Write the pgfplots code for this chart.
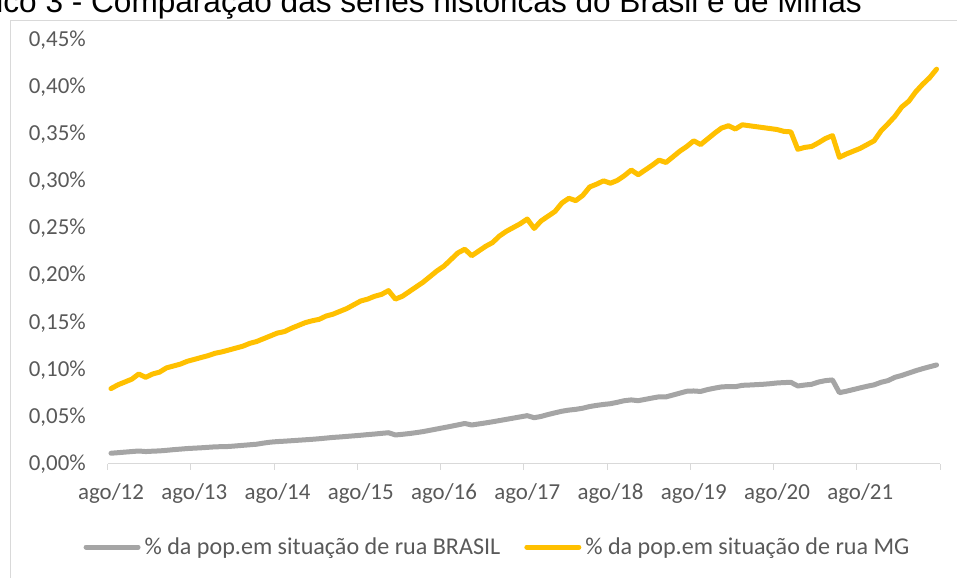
\documentclass[border=0pt]{standalone}
\usepackage{pgfplots}
\pgfplotsset{compat=1.18}
\usepackage{pgfplotstable}
\usepackage{fontspec}
\setmainfont{Carlito}
\newfontfamily\arialfont{Liberation Sans}
\definecolor{mgY}{HTML}{FFC000}
\definecolor{brG}{HTML}{A5A5A5}
\definecolor{txt}{HTML}{595959}
\definecolor{axl}{HTML}{D9D9D9}

\pgfplotstableread{
i v
0 0.0114
1 0.0120
2 0.0126
3 0.0132
4 0.0138
5 0.0132
6 0.0136
7 0.0139
8 0.0145
9 0.0152
10 0.0158
11 0.0164
12 0.0168
13 0.0172
14 0.0177
15 0.0182
16 0.0184
17 0.0186
18 0.0192
19 0.0198
20 0.0204
21 0.0210
22 0.0222
23 0.0232
24 0.0238
25 0.0242
26 0.0247
27 0.0252
28 0.0257
29 0.0262
30 0.0268
31 0.0275
32 0.0282
33 0.0287
34 0.0293
35 0.0299
36 0.0305
37 0.0312
38 0.0318
39 0.0325
40 0.0332
41 0.0308
42 0.0315
43 0.0323
44 0.0333
45 0.0344
46 0.0358
47 0.0372
48 0.0386
49 0.0400
50 0.0415
51 0.0430
52 0.0414
53 0.0425
54 0.0436
55 0.0448
56 0.0461
57 0.0474
58 0.0487
59 0.0500
60 0.0513
61 0.0491
62 0.0505
63 0.0525
64 0.0543
65 0.0560
66 0.0572
67 0.0580
68 0.0592
69 0.0610
70 0.0622
71 0.0632
72 0.0640
73 0.0655
74 0.0672
75 0.0680
76 0.0672
77 0.0686
78 0.0700
79 0.0713
80 0.0712
81 0.0732
82 0.0752
83 0.0772
84 0.0775
85 0.0770
86 0.0790
87 0.0805
88 0.0818
89 0.0822
90 0.0820
91 0.0835
92 0.0838
93 0.0842
94 0.0846
95 0.0852
96 0.0860
97 0.0864
98 0.0867
99 0.0828
100 0.0838
101 0.0846
102 0.0870
103 0.0885
104 0.0892
105 0.0757
106 0.0772
107 0.0790
108 0.0808
109 0.0825
110 0.0840
111 0.0867
112 0.0885
113 0.0920
114 0.0940
115 0.0965
116 0.0990
117 0.1012
118 0.1032
119 0.1051
}\brasil

\pgfplotstableread{
i v
0 0.080
1 0.084
2 0.087
3 0.090
4 0.0955
5 0.092
6 0.0955
7 0.0975
8 0.102
9 0.104
10 0.106
11 0.109
12 0.111
13 0.113
14 0.115
15 0.1175
16 0.119
17 0.121
18 0.123
19 0.125
20 0.128
21 0.130
22 0.133
23 0.136
24 0.139
25 0.1405
26 0.144
27 0.147
28 0.150
29 0.152
30 0.1535
31 0.157
32 0.159
33 0.162
34 0.165
35 0.169
36 0.173
37 0.175
38 0.178
39 0.180
40 0.184
41 0.175
42 0.178
43 0.183
44 0.188
45 0.193
46 0.199
47 0.205
48 0.210
49 0.217
50 0.224
51 0.228
52 0.221
53 0.226
54 0.231
55 0.235
56 0.242
57 0.247
58 0.251
59 0.255
60 0.260
61 0.250
62 0.258
63 0.263
64 0.268
65 0.277
66 0.282
67 0.2795
68 0.285
69 0.294
70 0.297
71 0.3005
72 0.298
73 0.301
74 0.306
75 0.312
76 0.307
77 0.312
78 0.317
79 0.3225
80 0.320
81 0.326
82 0.332
83 0.337
84 0.343
85 0.339
86 0.345
87 0.351
88 0.3565
89 0.359
90 0.3555
91 0.360
92 0.359
93 0.358
94 0.357
95 0.356
96 0.355
97 0.353
98 0.3525
99 0.334
100 0.336
101 0.337
102 0.341
103 0.3455
104 0.3485
105 0.3255
106 0.329
107 0.332
108 0.335
109 0.339
110 0.343
111 0.3535
112 0.361
113 0.369
114 0.379
115 0.385
116 0.395
117 0.403
118 0.410
119 0.419
}\mg

\begin{document}
\begin{tikzpicture}[x=1bp,y=1bp]
\useasboundingbox (0,0) rectangle (957,578);
\begin{scope}
\clip (0,0) rectangle (957,578);
\node[anchor=base east, inner sep=0, text=black, font=\arialfont\fontsize{31.7}{36}\selectfont] at (862,565) {Gráfico 3 - Comparação das séries históricas do Brasil e de Minas};
\end{scope}
\draw[axl, line width=1bp] (10,0) -- (10,557) -- (957,557);
\begin{axis}[
  at={(107.5bp,114bp)}, anchor=south west,
  scale only axis, width=832.5bp, height=424bp,
  xmin=-0.5, xmax=119.5, ymin=0, ymax=0.45,
  axis x line*=bottom, axis y line*=left,
  y axis line style={draw=none},
  x axis line style={axl, line width=1bp},
  xtick={0,12,...,108},
  xticklabels={ago/12,ago/13,ago/14,ago/15,ago/16,ago/17,ago/18,ago/19,ago/20,ago/21},
  minor xtick={-0.5,11.5,...,119.5},
  major tick length=0pt,
  minor tick length=6bp,
  tick align=outside,
  minor x tick style={axl, line width=1bp},
  major tick style={draw=none},
  ytick={0,0.05,...,0.45},
  yticklabels={{0,00\%},{0,05\%},{0,10\%},{0,15\%},{0,20\%},{0,25\%},{0,30\%},{0,35\%},{0,40\%},{0,45\%}},
  yticklabel style={anchor=east, inner sep=0pt, xshift=-21.5bp, text=txt, font=\fontsize{23}{27}\selectfont},
  xticklabel style={anchor=base, inner sep=0pt, yshift=-36bp, text=txt, font=\fontsize{23}{27}\selectfont},
  legend style={at={(0.4685,-0.1958)}, anchor=center, draw=none, fill=none,
    legend columns=2, font=\fontsize{24.2}{28}\selectfont, text=txt,
    /tikz/every odd column/.append style={column sep=2bp},
    /tikz/every even column/.append style={column sep=22bp}},
  legend cell align=left,
  legend image code/.code={\draw[#1, line width=5bp, line cap=round] (0bp,0bp) -- (52bp,0bp);},
]
\addplot[brG, line width=5bp, line join=round, line cap=round] table[x=i, y=v] {\brasil};
\addlegendentry{\% da pop.em situação de rua BRASIL}
\addplot[mgY, line width=5bp, line join=round, line cap=round] table[x=i, y=v] {\mg};
\addlegendentry{\% da pop.em situação de rua MG}
\end{axis}
\end{tikzpicture}
\end{document}
